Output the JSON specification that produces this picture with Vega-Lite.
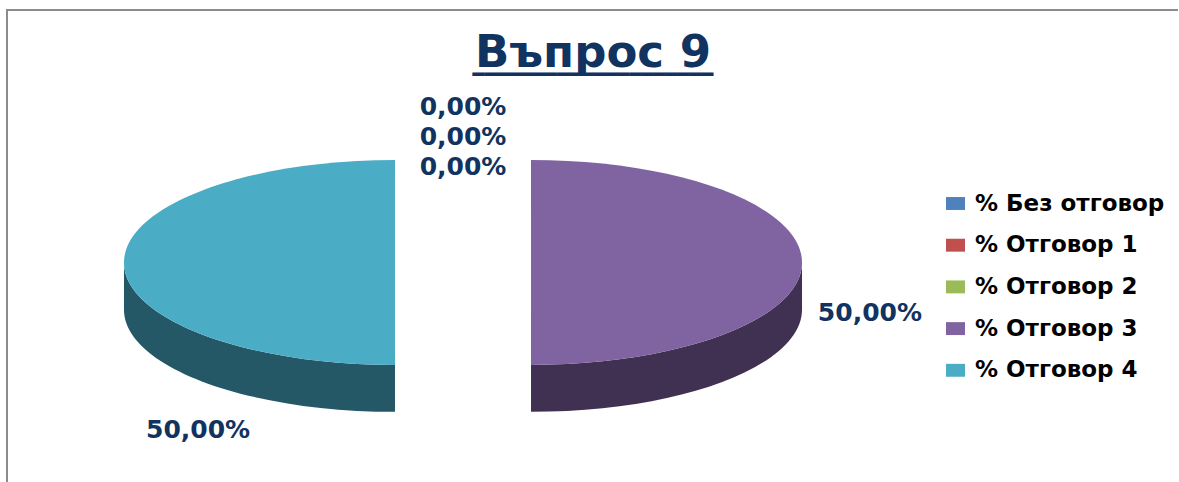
{
  "$schema": "https://vega.github.io/schema/vega-lite/v6.json",
  "width": 1172,
  "height": 472,
  "autosize": {"type": "none"},
  "padding": {"left": 7, "top": 10, "right": 0, "bottom": 0},
  "background": "white",
  "view": {"stroke": "#8C8C8C", "strokeWidth": 2, "strokeDash": [1171, 1645, 472]},
  "config": {
    "font": "DejaVu Sans",
    "locale": {"number": {"decimal": ",", "thousands": " ", "grouping": [3], "currency": ["", ""]}}
  },
  "title": {
    "text": "Въпрос 9",
    "subtitle": "━━━━━━━━━━━━━━━━━━━━",
    "font": "DejaVu Sans",
    "fontSize": 45,
    "fontWeight": "bold",
    "color": "#11335F",
    "subtitleFont": "DejaVu Sans",
    "subtitleFontSize": 20,
    "subtitleColor": "#11335F",
    "subtitlePadding": -31,
    "anchor": "middle",
    "baseline": "alphabetic",
    "offset": -111
  },
  "resolve": {
    "scale": {"shape": "independent", "color": "independent", "fill": "independent", "theta": "independent"},
    "legend": {"shape": "independent", "color": "independent"}
  },
  "data": {
    "values": [
      {"answer": "% Без отговор", "value": 0},
      {"answer": "% Отговор 1", "value": 0},
      {"answer": "% Отговор 2", "value": 0},
      {"answer": "% Отговор 3", "value": 0.5},
      {"answer": "% Отговор 4", "value": 0.5}
    ]
  },
  "layer": [
    {
      "transform": [{"filter": "datum.value > 0"}],
      "mark": {"type": "point", "filled": true, "opacity": 1, "strokeWidth": 0, "xOffset": -130, "yOffset": 16.5},
      "encoding": {
        "shape": {
          "field": "answer", "type": "nominal",
          "scale": {
            "domain": ["% Без отговор", "% Отговор 1", "% Отговор 2", "% Отговор 3", "% Отговор 4"],
            "range": ["circle", "circle", "circle",
              "M1.251,0A1,0.378,0,0,1,0.251,0.378L0.251,0.551A1,0.378,0,0,0,1.251,0.173Z",
              "M-1.251,0A1,0.378,0,0,0,-0.251,0.378L-0.251,0.551A1,0.378,0,0,1,-1.251,0.173Z"]
          },
          "legend": null
        },
        "fill": {
          "field": "answer", "type": "nominal",
          "scale": {
            "domain": ["% Без отговор", "% Отговор 1", "% Отговор 2", "% Отговор 3", "% Отговор 4"],
            "range": ["#2A4A70", "#6E2C2B", "#566B30", "#403152", "#245867"]
          },
          "legend": null
        },
        "size": {"value": 293764}
      }
    },
    {
      "transform": [{"filter": "datum.value > 0"}],
      "mark": {"type": "point", "filled": true, "opacity": 1, "strokeWidth": 0, "xOffset": -130, "yOffset": 16.5},
      "encoding": {
        "shape": {
          "field": "answer", "type": "nominal",
          "scale": {
            "domain": ["% Без отговор", "% Отговор 1", "% Отговор 2", "% Отговор 3", "% Отговор 4"],
            "range": ["circle", "circle", "circle",
              "M0.251,-0.378A1,0.378,0,0,1,0.251,0.378Z",
              "M-0.251,0.378A1,0.378,0,0,1,-0.251,-0.378Z"]
          },
          "legend": null
        },
        "color": {
          "field": "answer", "type": "nominal",
          "scale": {
            "domain": ["% Без отговор", "% Отговор 1", "% Отговор 2", "% Отговор 3", "% Отговор 4"],
            "range": ["#4F81BD", "#C0504D", "#9BBB59", "#8064A2", "#4BACC6"]
          },
          "legend": null
        },
        "size": {"value": 293764}
      }
    },
    {
      "mark": {"type": "point", "filled": true, "opacity": 0},
      "encoding": {
        "color": {
          "field": "answer", "type": "nominal",
          "scale": {
            "domain": ["% Без отговор", "% Отговор 1", "% Отговор 2", "% Отговор 3", "% Отговор 4"],
            "range": ["#4F81BD", "#C0504D", "#9BBB59", "#8064A2", "#4BACC6"]
          },
          "legend": {
            "orient": "none", "legendX": 937, "legendY": 182, "title": null,
            "symbolType": "M-1,-0.68H1V0.68H-1Z", "symbolSize": 361,
            "symbolStrokeWidth": 0, "symbolOpacity": 1,
            "labelFont": "DejaVu Sans", "labelFontWeight": "bold", "labelFontSize": 23,
            "labelColor": "#000000", "labelOffset": 8, "labelLimit": 300,
            "rowPadding": 17.7, "padding": 0
          }
        }
      }
    },
    {
      "transform": [{"filter": "datum.value == 0"}],
      "mark": {"type": "text", "font": "DejaVu Sans", "fontWeight": "bold", "fontSize": 25, "color": "#11335F", "baseline": "middle", "xOffset": -130, "yOffset": 16},
      "encoding": {
        "theta": {"field": "value", "type": "quantitative", "stack": true, "scale": {"domain": [0, 1]}},
        "detail": {"field": "answer", "type": "nominal"},
        "order": {"field": "answer", "sort": "ascending"},
        "radius": {
          "field": "answer", "type": "nominal",
          "scale": {"type": "point", "domain": ["% Отговор 2", "% Отговор 1", "% Без отговор"], "range": [95, 155], "padding": 0}
        },
        "text": {"field": "value", "type": "quantitative", "format": ".2%"}
      }
    },
    {
      "transform": [{"filter": "datum.value > 0"}],
      "mark": {"type": "text", "font": "DejaVu Sans", "fontWeight": "bold", "fontSize": 25, "color": "#11335F", "baseline": "middle", "radius": 341, "xOffset": -59, "yOffset": 125.5},
      "encoding": {
        "theta": {"field": "value", "type": "quantitative", "stack": true, "scale": {"range": [-0.1728, 6.1104]}},
        "detail": {"field": "answer", "type": "nominal"},
        "order": {"field": "answer", "sort": "ascending"},
        "text": {"field": "value", "type": "quantitative", "format": ".2%"}
      }
    }
  ]
}
